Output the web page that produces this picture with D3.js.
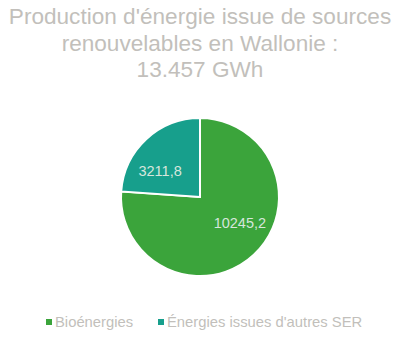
<!DOCTYPE html>
<html>
<head>
<meta charset="utf-8">
<script src="https://cdn.jsdelivr.net/npm/d3@7"></script>
<style>
  body { margin: 0; background: #fff; }
  text { font-family: "Liberation Sans", Arial, sans-serif; }
</style>
</head>
<body>
<svg id="chart" width="400" height="337"></svg>
<script>
const titleLines = ["Production d'énergie issue de sources", "renouvelables en Wallonie :", "13.457 GWh"];
const categories = ["Bioénergies", "Énergies issues d'autres SER"];
const values = [10245.2, 3211.8];
const colors = ["#3ba43b", "#179f8c"];

const svg = d3.select('#chart');
const cx = 200, cy = 197, radius = 79;

// title
svg.append('g')
    .selectAll('text')
    .data(titleLines)
    .enter()
    .append('text')
    .attr('x', 200)
    .attr('y', (d, i) => 24 + i * 26.5)
    .attr('text-anchor', 'middle')
    .style('font-size', '22.6px')
    .style('fill', '#c2bfbb')
    .text(d => d);

// pie
let pie = d3.pie().sort(null).value(d => d)(values);
let arc = d3.arc().innerRadius(0).outerRadius(radius);

let g = svg.append('g').attr('transform', `translate(${cx},${cy})`);

g.selectAll('path')
    .data(pie)
    .enter()
    .append('path')
    .attr('d', arc)
    .attr('fill', (d, i) => colors[i])
    .attr('stroke', '#fff')
    .attr('stroke-width', 2);

const fmt = v => String(v).replace('.', ',');

// excel-ish label placement: a bit inside, shifted back from mid angle
function labelPos(d) {
    let a = (d.startAngle + d.endAngle) / 2 - 0.25;
    let r = radius * 0.6;
    return [r * Math.sin(a), -r * Math.cos(a)];
}

g.selectAll('text.lbl')
    .data(pie)
    .enter()
    .append('text')
    .classed('lbl', true)
    .attr('transform', d => `translate(${labelPos(d)})`)
    .attr('text-anchor', 'middle')
    .attr('dy', '0.35em')
    .style('font-size', '14.5px')
    .style('fill', '#d6e6dc')
    .text(d => fmt(d.data));

// legend
let legendX = [46, 158];
let legend = svg.append('g')
    .selectAll('g')
    .data(categories)
    .enter()
    .append('g')
    .attr('transform', (d, i) => `translate(${legendX[i]},322)`);

legend.append('rect')
    .attr('x', 0)
    .attr('y', -3)
    .attr('width', 6)
    .attr('height', 6)
    .attr('fill', (d, i) => colors[i]);

legend.append('text')
    .attr('x', 9)
    .attr('dy', '0.35em')
    .style('font-size', '14.8px')
    .style('fill', '#c2bfbb')
    .text(d => d);
</script>
</body>
</html>
